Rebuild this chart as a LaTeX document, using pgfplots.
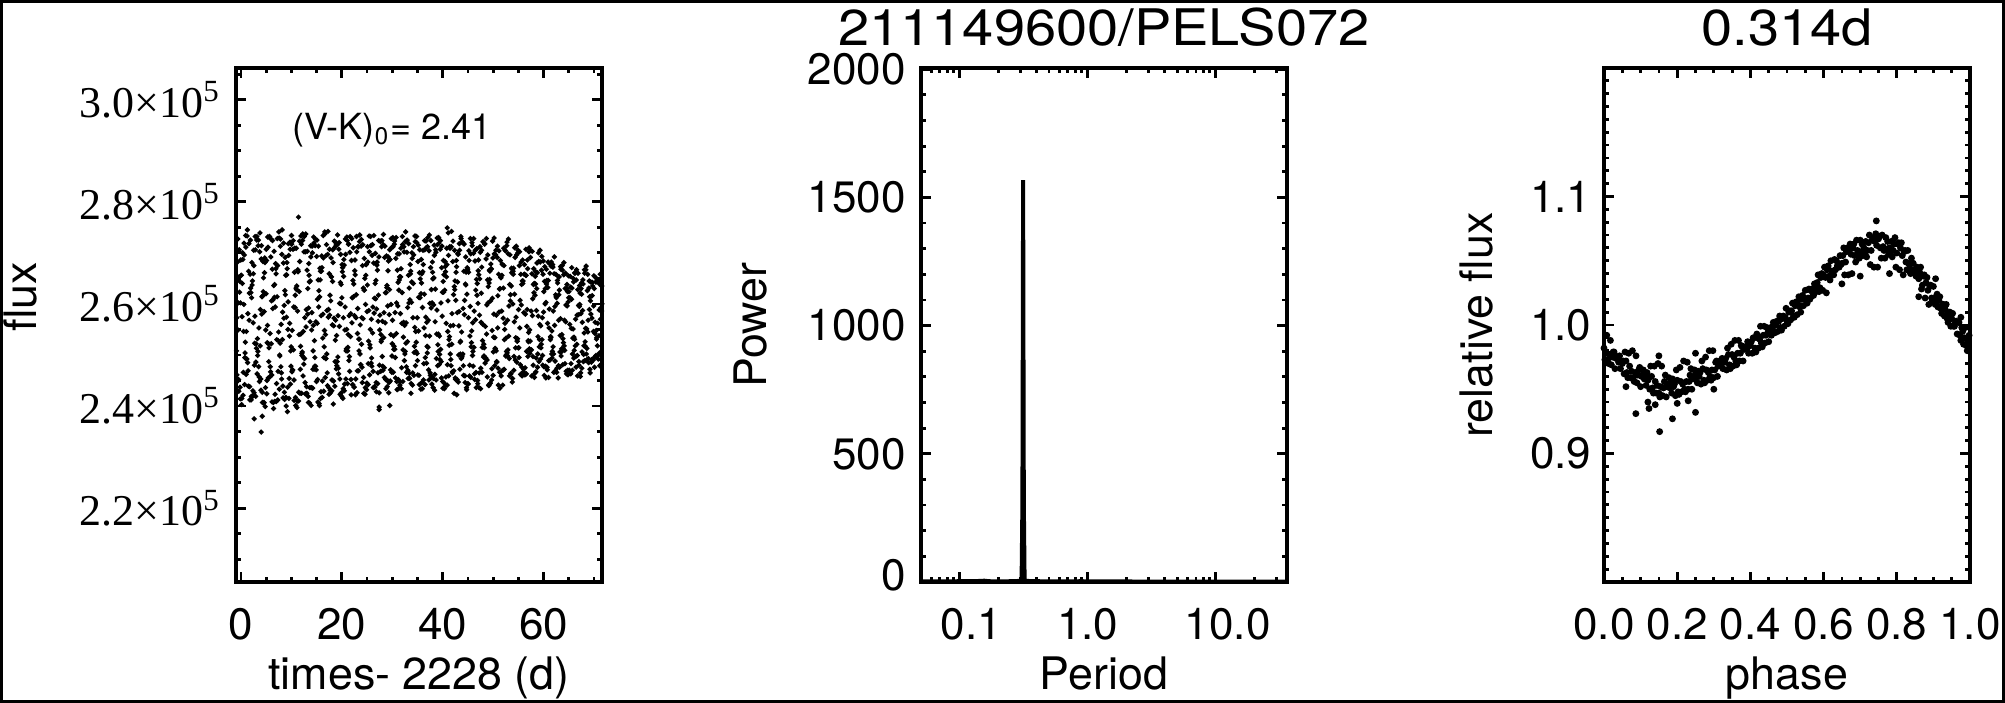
\documentclass[border=0pt]{standalone}
\usepackage{fontspec}
\setmainfont{TeX Gyre Heros}
\newfontfamily\timesf{Liberation Serif}
\usepackage{graphicx}
\usepackage{pgfplots}
\pgfplotsset{compat=1.18}
\pgfplotsset{
  idl/.style={
    scale only axis, width=91.5pt, height=128.5pt,
    anchor=south west,
    axis line style={line width=1pt},
    every tick/.style={black, line width=0.7pt},
    major tick length=2.5pt, minor tick length=1.25pt,
    tick align=inside,
    xtick pos=both, ytick pos=both,
    xticklabel pos=lower, yticklabel pos=left,
    /pgf/number format/assume math mode=true,
    /pgf/number format/1000 sep={},
    scaled ticks=false,
    tick label style={font=\fontsize{11}{13}\selectfont},
    xticklabel style={anchor=base, yshift=-14.5pt},
    yticklabel style={anchor=east, inner sep=0pt},
    label style={font=\fontsize{11.2}{13}\selectfont},
    xlabel style={at={(axis description cs:0.5,-0.21)}, anchor=base},
    ylabel style={anchor=base},
    title style={font=\fontsize{14}{16}\selectfont, at={(axis description cs:0.5,1.0447)}, anchor=base, yshift=-6pt},
  }
}
\begin{document}
\begin{tikzpicture}
\useasboundingbox (0,0) rectangle (501.25pt,175.75pt);
% ---------------- panel 1: light curve ----------------
\begin{axis}[idl, at={(59pt,30.25pt)},
  xmin=-1, xmax=71.6, ymin=2.0555, ymax=3.062,
  xtick={0,20,40,60},
  minor xtick={5,10,15,25,30,35,45,50,55,65,70},
  ytick={2.2,2.4,2.6,2.8,3.0},
  minor ytick={2.10,2.15,2.25,2.30,2.35,2.45,2.50,2.55,2.65,2.70,2.75,2.85,2.90,2.95,3.05},
  yticklabels={{\timesf 2.2×10\textsuperscript{5}},{\timesf 2.4×10\textsuperscript{5}},{\timesf 2.6×10\textsuperscript{5}},{\timesf 2.8×10\textsuperscript{5}},{\timesf 3.0×10\textsuperscript{5}}},
  yticklabel style={xshift=-3.6pt},
  xlabel={times- 2228 (d)}, ylabel={flux},
  ylabel style={at={(axis description cs:-0.546,0.555)}},
]
% flux in units of 1e5
\addplot[only marks, mark=*, mark size=0.42pt, black] coordinates {
(-0.9,2.508)(-0.8,2.461)(-0.7,2.682)(-0.6,2.549)(-0.5,2.452)(-0.4,2.653)(-0.3,2.623)(-0.2,2.437)(-0.1,2.602)(0.0,2.656)(0.1,2.403)(0.2,2.575)(0.3,2.700)(0.4,2.421)(0.5,2.546)(0.6,2.719)(0.7,2.442)(0.8,2.504)(0.9,2.734)(1.0,2.462)(1.1,2.492)(1.2,2.733)
(1.3,2.485)(1.4,2.469)(1.5,2.664)(1.6,2.568)(1.7,2.438)(1.8,2.658)(1.9,2.631)(2.0,2.412)(2.1,2.612)(2.2,2.637)(2.3,2.419)(2.4,2.563)(2.5,2.705)(2.6,2.426)(2.7,2.523)(2.8,2.732)(2.9,2.419)(3.0,2.522)(3.1,2.725)(3.2,2.463)(3.3,2.499)(3.4,2.714)
(3.5,2.477)(3.6,2.457)(3.7,2.702)(3.8,2.518)(3.9,2.453)(4.0,2.688)(4.1,2.580)(4.2,2.427)(4.3,2.616)(4.4,2.624)(4.5,2.406)(4.6,2.585)(4.7,2.690)(4.8,2.399)(4.9,2.549)(5.0,2.707)(5.1,2.424)(5.2,2.524)(5.3,2.731)(5.4,2.455)(5.5,2.487)(5.6,2.731)
(5.7,2.457)(5.8,2.477)(5.9,2.692)(6.0,2.522)(6.1,2.461)(6.2,2.668)(6.3,2.591)(6.4,2.407)(6.5,2.636)(6.6,2.613)(6.7,2.409)(6.8,2.594)(6.9,2.669)(7.0,2.409)(7.1,2.530)(7.2,2.728)(7.3,2.412)(7.4,2.528)(7.5,2.741)(7.6,2.433)(7.7,2.498)(7.8,2.713)
(7.9,2.477)(8.0,2.465)(8.1,2.697)(8.2,2.530)(8.3,2.439)(8.4,2.680)(8.5,2.572)(8.6,2.427)(8.7,2.626)(8.8,2.618)(8.9,2.417)(9.0,2.574)(9.1,2.681)(9.2,2.389)(9.3,2.550)(9.4,2.718)(9.5,2.415)(9.6,2.537)(9.7,2.721)(9.8,2.443)(9.9,2.478)(10.0,2.734)
(10.1,2.467)(10.2,2.470)(10.3,2.707)(10.4,2.510)(10.5,2.451)(10.6,2.662)(10.7,2.593)(10.8,2.417)(10.9,2.631)(11.0,2.628)(11.1,2.397)(11.2,2.586)(11.3,2.663)(11.4,2.410)(11.5,2.540)(11.6,2.723)(11.7,2.425)(11.8,2.517)(11.9,2.733)(12.0,2.425)(12.1,2.499)(12.2,2.724)
(12.3,2.459)(12.4,2.495)(12.5,2.702)(12.6,2.493)(12.7,2.446)(12.8,2.702)(12.9,2.555)(13.0,2.438)(13.1,2.666)(13.2,2.580)(13.3,2.419)(13.4,2.592)(13.5,2.656)(13.6,2.406)(13.7,2.565)(13.8,2.714)(13.9,2.401)(14.0,2.549)(14.1,2.713)(14.2,2.435)(14.3,2.508)(14.4,2.731)
(14.5,2.472)(14.6,2.478)(14.7,2.714)(14.8,2.478)(14.9,2.471)(15.0,2.693)(15.1,2.562)(15.2,2.452)(15.3,2.647)(15.4,2.594)(15.5,2.405)(15.6,2.614)(15.7,2.647)(15.8,2.415)(15.9,2.577)(16.0,2.694)(16.1,2.417)(16.2,2.533)(16.3,2.734)(16.4,2.429)(16.5,2.516)(16.6,2.741)
(16.7,2.456)(16.8,2.493)(16.9,2.695)(17.0,2.502)(17.1,2.465)(17.2,2.697)(17.3,2.574)(17.4,2.436)(17.5,2.659)(17.6,2.578)(17.7,2.431)(17.8,2.606)(17.9,2.653)(18.0,2.430)(18.1,2.559)(18.2,2.706)(18.3,2.404)(18.4,2.557)(18.5,2.723)(18.6,2.439)(18.7,2.529)(18.8,2.720)
(18.9,2.473)(19.0,2.479)(19.1,2.716)(19.2,2.496)(19.3,2.474)(19.4,2.707)(19.5,2.556)(19.6,2.453)(19.7,2.642)(19.8,2.600)(19.9,2.426)(20.0,2.612)(20.1,2.663)(20.2,2.415)(20.3,2.573)(20.4,2.687)(20.5,2.430)(20.6,2.549)(20.7,2.727)(20.8,2.453)(20.9,2.512)(21.0,2.731)
(21.1,2.444)(21.2,2.515)(21.3,2.717)(21.4,2.489)(21.5,2.497)(21.6,2.701)(21.7,2.536)(21.8,2.452)(21.9,2.685)(22.0,2.563)(22.1,2.442)(22.2,2.646)(22.3,2.614)(22.4,2.437)(22.5,2.577)(22.6,2.686)(22.7,2.422)(22.8,2.573)(22.9,2.732)(23.0,2.426)(23.1,2.542)(23.2,2.712)
(23.3,2.469)(23.4,2.508)(23.5,2.722)(23.6,2.502)(23.7,2.481)(23.8,2.713)(23.9,2.521)(24.0,2.476)(24.1,2.675)(24.2,2.571)(24.3,2.456)(24.4,2.627)(24.5,2.627)(24.6,2.423)(24.7,2.599)(24.8,2.677)(24.9,2.432)(25.0,2.585)(25.1,2.712)(25.2,2.442)(25.3,2.527)(25.4,2.733)
(25.5,2.461)(25.6,2.514)(25.7,2.732)(25.8,2.484)(25.9,2.494)(26.0,2.695)(26.1,2.543)(26.2,2.468)(26.3,2.680)(26.4,2.582)(26.5,2.438)(26.6,2.640)(26.7,2.610)(26.8,2.446)(26.9,2.590)(27.0,2.682)(27.1,2.444)(27.2,2.566)(27.3,2.724)(27.4,2.426)(27.5,2.549)(27.6,2.723)
(27.7,2.468)(27.8,2.526)(27.9,2.712)(28.0,2.497)(28.1,2.478)(28.2,2.716)(28.3,2.534)(28.4,2.475)(28.5,2.691)(28.6,2.563)(28.7,2.452)(28.8,2.622)(28.9,2.632)(29.0,2.438)(29.1,2.596)(29.2,2.692)(29.3,2.426)(29.4,2.579)(29.5,2.706)(29.6,2.449)(29.7,2.540)(29.8,2.728)
(29.9,2.466)(30.0,2.522)(30.1,2.730)(30.2,2.466)(30.3,2.511)(30.4,2.717)(30.5,2.511)(30.6,2.495)(30.7,2.689)(30.8,2.542)(30.9,2.448)(31.0,2.666)(31.1,2.596)(31.2,2.452)(31.3,2.627)(31.4,2.647)(31.5,2.441)(31.6,2.581)(31.7,2.709)(31.8,2.434)(31.9,2.562)(32.0,2.732)
(32.1,2.448)(32.2,2.535)(32.3,2.712)(32.4,2.489)(32.5,2.502)(32.6,2.722)(32.7,2.523)(32.8,2.477)(32.9,2.701)(33.0,2.526)(33.1,2.470)(33.2,2.656)(33.3,2.602)(33.4,2.464)(33.5,2.608)(33.6,2.659)(33.7,2.425)(33.8,2.603)(33.9,2.700)(34.0,2.441)(34.1,2.573)(34.2,2.712)
(34.3,2.460)(34.4,2.517)(34.5,2.733)(34.6,2.479)(34.7,2.507)(34.8,2.732)(34.9,2.503)(35.0,2.489)(35.1,2.683)(35.2,2.547)(35.3,2.460)(35.4,2.661)(35.5,2.612)(35.6,2.444)(35.7,2.620)(35.8,2.641)(35.9,2.446)(36.0,2.593)(36.1,2.705)(36.2,2.451)(36.3,2.553)(36.4,2.724)
(36.5,2.442)(36.6,2.538)(36.7,2.723)(36.8,2.484)(36.9,2.517)(37.0,2.712)(37.1,2.515)(37.2,2.471)(37.3,2.704)(37.4,2.537)(37.5,2.465)(37.6,2.671)(37.7,2.592)(37.8,2.456)(37.9,2.602)(38.0,2.662)(38.1,2.436)(38.2,2.598)(38.3,2.715)(38.4,2.431)(38.5,2.565)(38.6,2.706)
(38.7,2.451)(38.8,2.541)(38.9,2.729)(39.0,2.479)(39.1,2.507)(39.2,2.730)(39.3,2.481)(39.4,2.501)(39.5,2.707)(39.6,2.511)(39.7,2.487)(39.8,2.671)(39.9,2.576)(40.0,2.448)(40.1,2.644)(40.2,2.623)(40.3,2.445)(40.4,2.627)(40.5,2.673)(40.6,2.440)(40.7,2.562)(40.8,2.709)
(40.9,2.441)(41.0,2.546)(41.1,2.739)(41.2,2.459)(41.3,2.519)(41.4,2.712)(41.5,2.502)(41.6,2.491)(41.7,2.712)(41.8,2.521)(41.9,2.467)(42.0,2.683)(42.1,2.558)(42.2,2.469)(42.3,2.634)(42.4,2.628)(42.5,2.455)(42.6,2.607)(42.7,2.685)(42.8,2.422)(42.9,2.583)(43.0,2.699)
(43.1,2.447)(43.2,2.557)(43.3,2.718)(43.4,2.472)(43.5,2.502)(43.6,2.732)(43.7,2.493)(43.8,2.496)(43.9,2.721)(44.0,2.502)(44.1,2.479)(44.2,2.664)(44.3,2.579)(44.4,2.459)(44.5,2.639)(44.6,2.637)(44.7,2.436)(44.8,2.619)(44.9,2.666)(45.0,2.444)(45.1,2.573)(45.2,2.704)
(45.3,2.459)(45.4,2.537)(45.5,2.728)(45.6,2.456)(45.7,2.524)(45.8,2.720)(45.9,2.499)(46.0,2.507)(46.1,2.699)(46.2,2.515)(46.3,2.463)(46.4,2.684)(46.5,2.569)(46.6,2.466)(46.7,2.648)(46.8,2.617)(46.9,2.450)(47.0,2.601)(47.1,2.686)(47.2,2.436)(47.3,2.578)(47.4,2.712)
(47.5,2.434)(47.6,2.564)(47.7,2.705)(47.8,2.466)(47.9,2.528)(48.0,2.722)(48.1,2.496)(48.2,2.498)(48.3,2.717)(48.4,2.484)(48.5,2.493)(48.6,2.688)(48.7,2.541)(48.8,2.490)(48.9,2.647)(49.0,2.602)(49.1,2.441)(49.2,2.641)(49.3,2.648)(49.4,2.444)(49.5,2.606)(49.6,2.668)
(49.7,2.451)(49.8,2.548)(49.9,2.723)(50.0,2.460)(50.1,2.535)(50.2,2.729)(50.3,2.479)(50.4,2.513)(50.5,2.696)(50.6,2.508)(50.7,2.487)(50.8,2.691)(50.9,2.553)(51.0,2.474)(51.1,2.658)(51.2,2.584)(51.3,2.466)(51.4,2.630)(51.5,2.652)(51.6,2.459)(51.7,2.586)(51.8,2.678)
(51.9,2.441)(52.0,2.572)(52.1,2.709)(52.2,2.472)(52.3,2.550)(52.4,2.705)(52.5,2.498)(52.6,2.500)(52.7,2.714)(52.8,2.504)(52.9,2.498)(53.0,2.698)(53.1,2.537)(53.2,2.493)(53.3,2.638)(53.4,2.606)(53.5,2.464)(53.6,2.635)(53.7,2.661)(53.8,2.447)(53.9,2.600)(54.0,2.658)
(54.1,2.470)(54.2,2.565)(54.3,2.710)(54.4,2.490)(54.5,2.534)(54.6,2.713)(54.7,2.486)(54.8,2.527)(54.9,2.700)(55.0,2.514)(55.1,2.514)(55.2,2.675)(55.3,2.553)(55.4,2.481)(55.5,2.658)(55.6,2.598)(55.7,2.476)(55.8,2.645)(55.9,2.640)(56.0,2.467)(56.1,2.583)(56.2,2.677)
(56.3,2.461)(56.4,2.580)(56.5,2.707)(56.6,2.463)(56.7,2.556)(56.8,2.686)(56.9,2.497)(57.0,2.526)(57.1,2.702)(57.2,2.512)(57.3,2.503)(57.4,2.691)(57.5,2.510)(57.6,2.510)(57.7,2.659)(57.8,2.577)(57.9,2.497)(58.0,2.638)(58.1,2.622)(58.2,2.456)(58.3,2.617)(58.4,2.639)
(58.5,2.467)(58.6,2.587)(58.7,2.680)(58.8,2.476)(58.9,2.536)(59.0,2.700)(59.1,2.487)(59.2,2.530)(59.3,2.705)(59.4,2.492)(59.5,2.514)(59.6,2.666)(59.7,2.530)(59.8,2.499)(59.9,2.658)(60.0,2.584)(60.1,2.477)(60.2,2.644)(60.3,2.600)(60.4,2.478)(60.5,2.603)(60.6,2.639)
(60.7,2.476)(60.8,2.562)(60.9,2.682)(61.0,2.456)(61.1,2.553)(61.2,2.679)(61.3,2.490)(61.4,2.536)(61.5,2.674)(61.6,2.502)(61.7,2.494)(61.8,2.677)(61.9,2.516)(62.0,2.502)(62.1,2.659)(62.2,2.558)(62.3,2.488)(62.4,2.618)(62.5,2.614)(62.6,2.466)(62.7,2.601)(62.8,2.641)
(62.9,2.455)(63.0,2.568)(63.1,2.653)(63.2,2.476)(63.3,2.538)(63.4,2.673)(63.5,2.498)(63.6,2.512)(63.7,2.675)(63.8,2.481)(63.9,2.512)(64.0,2.657)(64.1,2.518)(64.2,2.509)(64.3,2.630)(64.4,2.565)(64.5,2.468)(64.6,2.630)(64.7,2.596)(64.8,2.470)(64.9,2.604)(65.0,2.612)
(65.1,2.470)(65.2,2.560)(65.3,2.654)(65.4,2.463)(65.5,2.552)(65.6,2.671)(65.7,2.470)(65.8,2.533)(65.9,2.650)(66.0,2.494)(66.1,2.509)(66.2,2.661)(66.3,2.518)(66.4,2.497)(66.5,2.647)(66.6,2.521)(66.7,2.499)(66.8,2.628)(66.9,2.579)(67.0,2.487)(67.1,2.595)(67.2,2.599)
(67.3,2.458)(67.4,2.581)(67.5,2.641)(67.6,2.474)(67.7,2.564)(67.8,2.647)(67.9,2.487)(68.0,2.518)(68.1,2.667)(68.2,2.489)(68.3,2.517)(68.4,2.667)(68.5,2.502)(68.6,2.513)(68.7,2.626)(68.8,2.545)(68.9,2.493)(69.0,2.631)(69.1,2.589)(69.2,2.472)(69.3,2.606)(69.4,2.580)
(69.5,2.486)(69.6,2.572)(69.7,2.642)(69.8,2.491)(69.9,2.546)(70.0,2.655)(70.1,2.476)(70.2,2.542)(70.3,2.652)(70.4,2.499)(70.5,2.531)(70.6,2.643)(70.7,2.518)(70.8,2.499)(70.9,2.644)(71.0,2.538)(71.1,2.504)(71.2,2.638)(71.3,2.570)(71.4,2.491)(71.5,2.586)(71.6,2.600)
(11.4,2.770)(4.0,2.349)(2.6,2.375)(4.2,2.380)(27.4,2.398)(27.4,2.393)(29.5,2.401)(40.9,2.749)
};
\addplot[only marks, mark=*, mark size=0.42pt, black] coordinates {
(-0.85,2.573)(-0.75,2.448)(-0.65,2.727)(-0.55,2.602)(-0.45,2.429)(-0.35,2.706)(-0.25,2.644)(-0.15,2.414)(-0.05,2.686)(0.05,2.656)(0.15,2.415)(0.25,2.640)(0.35,2.687)(0.45,2.466)(0.55,2.599)(0.65,2.696)(0.75,2.495)(0.85,2.525)(0.95,2.711)(1.05,2.546)(1.15,2.492)(1.25,2.745)
(1.35,2.581)(1.45,2.439)(1.55,2.718)(1.65,2.621)(1.75,2.412)(1.85,2.725)(1.95,2.622)(2.05,2.419)(2.15,2.681)(2.25,2.645)(2.35,2.430)(2.45,2.659)(2.55,2.675)(2.65,2.480)(2.75,2.576)(2.85,2.706)(2.95,2.486)(3.05,2.513)(3.15,2.732)(3.25,2.532)(3.35,2.507)(3.45,2.725)
(3.55,2.553)(3.65,2.448)(3.75,2.739)(3.85,2.589)(3.95,2.431)(4.05,2.714)(4.15,2.614)(4.25,2.407)(4.35,2.683)(4.45,2.651)(4.55,2.407)(4.65,2.661)(4.75,2.681)(4.85,2.436)(4.95,2.620)(5.05,2.685)(5.15,2.450)(5.25,2.558)(5.35,2.711)(5.45,2.522)(5.55,2.514)(5.65,2.732)
(5.75,2.542)(5.85,2.467)(5.95,2.727)(6.05,2.606)(6.15,2.408)(6.25,2.724)(6.35,2.608)(6.45,2.395)(6.55,2.703)(6.65,2.638)(6.75,2.423)(6.85,2.679)(6.95,2.659)(7.05,2.444)(7.15,2.614)(7.25,2.675)(7.35,2.468)(7.45,2.545)(7.55,2.729)(7.65,2.500)(7.75,2.523)(7.85,2.727)
(7.95,2.560)(8.05,2.453)(8.15,2.745)(8.25,2.584)(8.35,2.416)(8.45,2.719)(8.55,2.597)(8.65,2.413)(8.75,2.691)(8.85,2.656)(8.95,2.400)(9.05,2.657)(9.15,2.669)(9.25,2.437)(9.35,2.604)(9.45,2.695)(9.55,2.454)(9.65,2.562)(9.75,2.707)(9.85,2.508)(9.95,2.516)(10.05,2.717)
(10.15,2.548)(10.25,2.471)(10.35,2.724)(10.45,2.594)(10.55,2.411)(10.65,2.709)(10.75,2.617)(10.85,2.401)(10.95,2.709)(11.05,2.635)(11.15,2.410)(11.25,2.667)(11.35,2.664)(11.45,2.427)(11.55,2.624)(11.65,2.683)(11.75,2.472)(11.85,2.541)(11.95,2.717)(12.05,2.503)(12.15,2.506)(12.25,2.737)
(12.35,2.546)(12.45,2.482)(12.55,2.732)(12.65,2.573)(12.75,2.424)(12.85,2.737)(12.95,2.589)(13.05,2.425)(13.15,2.703)(13.25,2.630)(13.35,2.407)(13.45,2.679)(13.55,2.643)(13.65,2.436)(13.75,2.645)(13.85,2.692)(13.95,2.436)(14.05,2.583)(14.15,2.700)(14.25,2.472)(14.35,2.558)(14.45,2.719)
(14.55,2.528)(14.65,2.495)(14.75,2.727)(14.85,2.565)(14.95,2.448)(15.05,2.725)(15.15,2.609)(15.25,2.408)(15.35,2.713)(15.45,2.626)(15.55,2.401)(15.65,2.670)(15.75,2.664)(15.85,2.428)(15.95,2.664)(16.05,2.671)(16.15,2.449)(16.25,2.580)(16.35,2.690)(16.45,2.495)(16.55,2.548)(16.65,2.737)
(16.75,2.540)(16.85,2.493)(16.95,2.716)(17.05,2.587)(17.15,2.440)(17.25,2.742)(17.35,2.589)(17.45,2.423)(17.55,2.707)(17.65,2.617)(17.75,2.426)(17.85,2.690)(17.95,2.653)(18.05,2.451)(18.15,2.644)(18.25,2.681)(18.35,2.449)(18.45,2.572)(18.55,2.710)(18.65,2.487)(18.75,2.568)(18.85,2.715)
(18.95,2.538)(19.05,2.487)(19.15,2.735)(19.25,2.577)(19.35,2.463)(19.45,2.720)(19.55,2.601)(19.65,2.423)(19.75,2.697)(19.85,2.638)(19.95,2.419)(20.05,2.677)(20.15,2.671)(20.25,2.434)(20.35,2.654)(20.45,2.676)(20.55,2.443)(20.65,2.594)(20.75,2.697)(20.85,2.508)(20.95,2.550)(21.05,2.724)
(21.15,2.508)(21.25,2.540)(21.35,2.717)(21.45,2.577)(21.55,2.468)(21.65,2.732)(21.75,2.581)(21.85,2.422)(21.95,2.728)(22.05,2.612)(22.15,2.442)(22.25,2.710)(22.35,2.639)(22.45,2.437)(22.55,2.665)(22.65,2.657)(22.75,2.453)(22.85,2.618)(22.95,2.702)(23.05,2.469)(23.15,2.591)(23.25,2.712)
(23.35,2.531)(23.45,2.531)(23.55,2.735)(23.65,2.559)(23.75,2.481)(23.85,2.726)(23.95,2.573)(24.05,2.446)(24.15,2.716)(24.25,2.631)(24.35,2.425)(24.45,2.689)(24.55,2.650)(24.65,2.436)(24.75,2.656)(24.85,2.677)(24.95,2.445)(25.05,2.637)(25.15,2.682)(25.25,2.483)(25.35,2.587)(25.45,2.702)
(25.55,2.520)(25.65,2.550)(25.75,2.714)(25.85,2.570)(25.95,2.478)(26.05,2.716)(26.15,2.594)(26.25,2.436)(26.35,2.734)(26.45,2.611)(26.55,2.437)(26.65,2.699)(26.75,2.646)(26.85,2.428)(26.95,2.676)(27.05,2.666)(27.15,2.465)(27.25,2.617)(27.35,2.692)(27.45,2.480)(27.55,2.578)(27.65,2.722)
(27.75,2.540)(27.85,2.530)(27.95,2.724)(28.05,2.566)(28.15,2.470)(28.25,2.736)(28.35,2.583)(28.45,2.456)(28.55,2.713)(28.65,2.622)(28.75,2.434)(28.85,2.694)(28.95,2.636)(29.05,2.450)(29.15,2.665)(29.25,2.684)(29.35,2.446)(29.45,2.628)(29.55,2.687)(29.65,2.471)(29.75,2.599)(29.85,2.710)
(29.95,2.498)(30.05,2.568)(30.15,2.712)(30.25,2.537)(30.35,2.517)(30.45,2.723)(30.55,2.583)(30.65,2.455)(30.75,2.730)(30.85,2.602)(30.95,2.432)(31.05,2.698)(31.15,2.642)(31.25,2.434)(31.35,2.698)(31.45,2.653)(31.55,2.447)(31.65,2.653)(31.75,2.669)(31.85,2.475)(31.95,2.622)(32.05,2.716)
(32.15,2.510)(32.25,2.564)(32.35,2.702)(32.45,2.558)(32.55,2.507)(32.65,2.741)(32.75,2.563)(32.85,2.466)(32.95,2.725)(33.05,2.593)(33.15,2.454)(33.25,2.718)(33.35,2.631)(33.45,2.454)(33.55,2.677)(33.65,2.664)(33.75,2.444)(33.85,2.643)(33.95,2.689)(34.05,2.465)(34.15,2.640)(34.25,2.696)
(34.35,2.505)(34.45,2.554)(34.55,2.722)(34.65,2.546)(34.75,2.525)(34.85,2.720)(34.95,2.573)(35.05,2.461)(35.15,2.715)(35.25,2.613)(35.35,2.442)(35.45,2.706)(35.55,2.649)(35.65,2.433)(35.75,2.687)(35.85,2.659)(35.95,2.434)(36.05,2.663)(36.15,2.677)(36.25,2.483)(36.35,2.619)(36.45,2.706)
(36.55,2.495)(36.65,2.574)(36.75,2.710)(36.85,2.564)(36.95,2.504)(37.05,2.730)(37.15,2.568)(37.25,2.451)(37.35,2.735)(37.45,2.601)(37.55,2.460)(37.65,2.724)(37.75,2.628)(37.85,2.443)(37.95,2.682)(38.05,2.649)(38.15,2.454)(38.25,2.651)(38.35,2.695)(38.45,2.462)(38.55,2.629)(38.65,2.701)
(38.75,2.493)(38.85,2.588)(38.95,2.716)(39.05,2.520)(39.15,2.541)(39.25,2.719)(39.35,2.537)(39.45,2.491)(39.55,2.724)(39.65,2.602)(39.75,2.455)(39.85,2.713)(39.95,2.623)(40.05,2.435)(40.15,2.685)(40.25,2.657)(40.35,2.434)(40.45,2.683)(40.55,2.663)(40.65,2.457)(40.75,2.653)(40.85,2.677)
(40.95,2.481)(41.05,2.606)(41.15,2.695)(41.25,2.530)(41.35,2.536)(41.45,2.709)(41.55,2.557)(41.65,2.479)(41.75,2.742)(41.85,2.581)(41.95,2.465)(42.05,2.723)(42.15,2.618)(42.25,2.425)(42.35,2.705)(42.45,2.645)(42.55,2.452)(42.65,2.662)(42.75,2.673)(42.85,2.452)(42.95,2.643)(43.05,2.697)
(43.15,2.500)(43.25,2.585)(43.35,2.705)(43.45,2.525)(43.55,2.527)(43.65,2.728)(43.75,2.545)(43.85,2.498)(43.95,2.720)(44.05,2.591)(44.15,2.460)(44.25,2.717)(44.35,2.607)(44.45,2.446)(44.55,2.692)(44.65,2.662)(44.75,2.432)(44.85,2.671)(44.95,2.668)(45.05,2.443)(45.15,2.662)(45.25,2.685)
(45.35,2.480)(45.45,2.595)(45.55,2.698)(45.65,2.516)(45.75,2.547)(45.85,2.714)(45.95,2.563)(46.05,2.478)(46.15,2.728)(46.25,2.586)(46.35,2.452)(46.45,2.705)(46.55,2.627)(46.65,2.436)(46.75,2.708)(46.85,2.640)(46.95,2.444)(47.05,2.665)(47.15,2.657)(47.25,2.465)(47.35,2.649)(47.45,2.701)
(47.55,2.474)(47.65,2.621)(47.75,2.672)(47.85,2.515)(47.95,2.560)(48.05,2.721)(48.15,2.521)(48.25,2.514)(48.35,2.718)(48.45,2.556)(48.55,2.494)(48.65,2.728)(48.75,2.598)(48.85,2.457)(48.95,2.696)(49.05,2.634)(49.15,2.440)(49.25,2.666)(49.35,2.664)(49.45,2.445)(49.55,2.678)(49.65,2.669)
(49.75,2.473)(49.85,2.611)(49.95,2.690)(50.05,2.506)(50.15,2.580)(50.25,2.698)(50.35,2.534)(50.45,2.512)(50.55,2.705)(50.65,2.578)(50.75,2.486)(50.85,2.713)(50.95,2.616)(51.05,2.441)(51.15,2.704)(51.25,2.629)(51.35,2.435)(51.45,2.685)(51.55,2.651)(51.65,2.468)(51.75,2.656)(51.85,2.677)
(51.95,2.470)(52.05,2.631)(52.15,2.675)(52.25,2.530)(52.35,2.562)(52.45,2.704)(52.55,2.533)(52.65,2.507)(52.75,2.721)(52.85,2.568)(52.95,2.510)(53.05,2.727)(53.15,2.596)(53.25,2.459)(53.35,2.696)(53.45,2.618)(53.55,2.463)(53.65,2.670)(53.75,2.668)(53.85,2.454)(53.95,2.664)(54.05,2.670)
(54.15,2.497)(54.25,2.619)(54.35,2.691)(54.45,2.514)(54.55,2.574)(54.65,2.696)(54.75,2.527)(54.85,2.532)(54.95,2.705)(55.05,2.589)(55.15,2.495)(55.25,2.702)(55.35,2.607)(55.45,2.462)(55.55,2.682)(55.65,2.638)(55.75,2.459)(55.85,2.686)(55.95,2.645)(56.05,2.472)(56.15,2.658)(56.25,2.658)
(56.35,2.475)(56.45,2.656)(56.55,2.656)(56.65,2.507)(56.75,2.589)(56.85,2.669)(56.95,2.528)(57.05,2.544)(57.15,2.710)(57.25,2.549)(57.35,2.527)(57.45,2.705)(57.55,2.586)(57.65,2.459)(57.75,2.703)(57.85,2.610)(57.95,2.480)(58.05,2.669)(58.15,2.640)(58.25,2.464)(58.35,2.654)(58.45,2.663)
(58.55,2.494)(58.65,2.630)(58.75,2.661)(58.85,2.502)(58.95,2.576)(59.05,2.683)(59.15,2.516)(59.25,2.560)(59.35,2.682)(59.45,2.557)(59.55,2.521)(59.65,2.693)(59.75,2.573)(59.85,2.480)(59.95,2.684)(60.05,2.624)(60.15,2.460)(60.25,2.673)(60.35,2.630)(60.45,2.455)(60.55,2.668)(60.65,2.646)
(60.75,2.471)(60.85,2.632)(60.95,2.646)(61.05,2.489)(61.15,2.590)(61.25,2.660)(61.35,2.530)(61.45,2.534)(61.55,2.682)(61.65,2.547)(61.75,2.507)(61.85,2.672)(61.95,2.586)(62.05,2.466)(62.15,2.692)(62.25,2.595)(62.35,2.469)(62.45,2.658)(62.55,2.612)(62.65,2.474)(62.75,2.646)(62.85,2.654)
(62.95,2.479)(63.05,2.618)(63.15,2.627)(63.25,2.506)(63.35,2.571)(63.45,2.668)(63.55,2.506)(63.65,2.540)(63.75,2.666)(63.85,2.532)(63.95,2.524)(64.05,2.681)(64.15,2.568)(64.25,2.483)(64.35,2.660)(64.45,2.598)(64.55,2.463)(64.65,2.638)(64.75,2.624)(64.85,2.461)(64.95,2.655)(65.05,2.624)
(65.15,2.469)(65.25,2.612)(65.35,2.633)(65.45,2.483)(65.55,2.609)(65.65,2.631)(65.75,2.502)(65.85,2.551)(65.95,2.643)(66.05,2.535)(66.15,2.531)(66.25,2.660)(66.35,2.570)(66.45,2.476)(66.55,2.667)(66.65,2.578)(66.75,2.459)(66.85,2.660)(66.95,2.597)(67.05,2.480)(67.15,2.636)(67.25,2.621)
(67.35,2.465)(67.45,2.630)(67.55,2.619)(67.65,2.506)(67.75,2.587)(67.85,2.639)(67.95,2.501)(68.05,2.543)(68.15,2.660)(68.25,2.526)(68.35,2.552)(68.45,2.674)(68.55,2.551)(68.65,2.491)(68.75,2.658)(68.85,2.568)(68.95,2.485)(69.05,2.645)(69.15,2.614)(69.25,2.465)(69.35,2.643)(69.45,2.615)
(69.55,2.491)(69.65,2.616)(69.75,2.635)(69.85,2.490)(69.95,2.596)(70.05,2.630)(70.15,2.496)(70.25,2.564)(70.35,2.643)(70.45,2.548)(70.55,2.534)(70.65,2.648)(70.75,2.562)(70.85,2.492)(70.95,2.643)(71.05,2.588)(71.15,2.479)(71.25,2.658)(71.35,2.592)(71.45,2.482)(71.55,2.635)
};
\node[font=\fontsize{9}{10}\selectfont, anchor=base] at (axis description cs:0.426,0.86) {(V-K)\textsubscript{0}= 2.41};
\end{axis}
% ---------------- panel 2: periodogram ----------------
\begin{axis}[idl, at={(230.25pt,30.25pt)},
  xmode=log, xmin=0.05, xmax=36, ymin=0, ymax=2005,
  xtick={0.1,1,10}, xticklabels={\hspace*{6pt}0.1,1.0,\hspace*{6pt}10.0},
  minor xtick={0.06,0.07,0.08,0.09,0.2,0.3,0.4,0.5,0.6,0.7,0.8,0.9,2,3,4,5,6,7,8,9,20,30},
  ytick={0,500,1000,1500,2000}, yticklabels={\raisebox{3.5pt}{0},500,1000,1500,2000},
  minor y tick num=4,
  yticklabel style={xshift=-3.6pt},
  xlabel={Period}, ylabel={Power},
  ylabel style={at={(axis description cs:-0.421,0.5)}},
  title={\scalebox{1}[0.9]{211149600/PELS072}},
]
\addplot[black, line width=1pt] coordinates {
(0.05,2)(0.07,2)(0.1,3)(0.13,3)(0.156,5)(0.17,3)(0.2,2)(0.25,3)(0.29,4)(0.305,6)(0.3095,300)(0.3115,900)(0.3135,1568)(0.3155,900)(0.3175,300)(0.322,6)(0.34,4)(0.4,3)(0.6,2)(0.9,3)(1.1,2)(2,2)(5,1)(10,1)(20,1)(36,1)
};
\end{axis}
% ---------------- panel 3: phased light curve ----------------
\begin{axis}[idl, at={(401pt,30.25pt)},
  xmin=0, xmax=1, ymin=0.8, ymax=1.2,
  xtick={0,0.2,0.4,0.6,0.8,1}, xticklabels={0.0,0.2,0.4,0.6,0.8,1.0},
  minor x tick num=3,
  ytick={0.9,1.0,1.1}, yticklabels={0.9,1.0,1.1},
  minor ytick={0.81,0.82,0.83,0.84,0.85,0.86,0.87,0.88,0.89,0.91,0.92,0.93,0.94,0.95,0.96,0.97,0.98,0.99,1.01,1.02,1.03,1.04,1.05,1.06,1.07,1.08,1.09,1.11,1.12,1.13,1.14,1.15,1.16,1.17,1.18,1.19},
  yticklabel style={xshift=-3pt},
  xlabel={phase}, ylabel={relative flux},
  ylabel style={at={(axis description cs:-0.306,0.5)}},
  title={\scalebox{1}[0.9]{0.314d}},
]
\addplot[only marks, mark=*, mark size=0.65pt, black] coordinates {
(0.0000,0.982)(0.0025,0.973)(0.0050,0.978)(0.0075,0.992)(0.0100,0.973)(0.0125,0.970)(0.0150,0.977)(0.0175,0.988)(0.0200,0.969)(0.0225,0.975)(0.0250,0.979)(0.0275,0.979)(0.0300,0.966)(0.0325,0.974)(0.0350,0.975)(0.0375,0.975)(0.0400,0.971)(0.0425,0.976)(0.0450,0.966)(0.0475,0.972)
(0.0500,0.970)(0.0525,0.972)(0.0550,0.962)(0.0575,0.979)(0.0600,0.972)(0.0625,0.963)(0.0650,0.959)(0.0675,0.978)(0.0700,0.968)(0.0725,0.959)(0.0750,0.964)(0.0775,0.980)(0.0800,0.959)(0.0825,0.956)(0.0850,0.963)(0.0875,0.976)(0.0900,0.955)(0.0925,0.961)(0.0950,0.965)(0.0975,0.967)
(0.1000,0.952)(0.1025,0.960)(0.1050,0.961)(0.1075,0.965)(0.1100,0.958)(0.1125,0.962)(0.1150,0.953)(0.1175,0.963)(0.1200,0.957)(0.1225,0.959)(0.1250,0.950)(0.1275,0.968)(0.1300,0.960)(0.1325,0.951)(0.1350,0.947)(0.1375,0.968)(0.1400,0.956)(0.1425,0.947)(0.1450,0.953)(0.1475,0.970)
(0.1500,0.947)(0.1525,0.944)(0.1550,0.952)(0.1575,0.968)(0.1600,0.945)(0.1625,0.951)(0.1650,0.956)(0.1675,0.961)(0.1700,0.944)(0.1725,0.952)(0.1750,0.954)(0.1775,0.959)(0.1800,0.951)(0.1825,0.956)(0.1850,0.947)(0.1875,0.958)(0.1900,0.952)(0.1925,0.954)(0.1950,0.945)(0.1975,0.965)
(0.2000,0.957)(0.2025,0.948)(0.2050,0.946)(0.2075,0.967)(0.2100,0.956)(0.2125,0.948)(0.2150,0.954)(0.2175,0.972)(0.2200,0.950)(0.2225,0.948)(0.2250,0.956)(0.2275,0.971)(0.2300,0.950)(0.2325,0.956)(0.2350,0.961)(0.2375,0.966)(0.2400,0.950)(0.2425,0.958)(0.2450,0.960)(0.2475,0.965)
(0.2500,0.958)(0.2525,0.963)(0.2550,0.955)(0.2575,0.964)(0.2600,0.960)(0.2625,0.963)(0.2650,0.954)(0.2675,0.972)(0.2700,0.966)(0.2725,0.957)(0.2750,0.955)(0.2775,0.975)(0.2800,0.965)(0.2825,0.957)(0.2850,0.963)(0.2875,0.980)(0.2900,0.960)(0.2925,0.957)(0.2950,0.965)(0.2975,0.980)
(0.3000,0.959)(0.3025,0.965)(0.3050,0.971)(0.3075,0.972)(0.3100,0.960)(0.3125,0.968)(0.3150,0.971)(0.3175,0.972)(0.3200,0.969)(0.3225,0.974)(0.3250,0.966)(0.3275,0.973)(0.3300,0.971)(0.3325,0.974)(0.3350,0.965)(0.3375,0.982)(0.3400,0.977)(0.3425,0.969)(0.3450,0.966)(0.3475,0.985)
(0.3500,0.977)(0.3525,0.968)(0.3550,0.975)(0.3575,0.988)(0.3600,0.972)(0.3625,0.969)(0.3650,0.978)(0.3675,0.988)(0.3700,0.972)(0.3725,0.978)(0.3750,0.984)(0.3775,0.983)(0.3800,0.972)(0.3825,0.981)(0.3850,0.983)(0.3875,0.983)(0.3900,0.981)(0.3925,0.987)(0.3950,0.978)(0.3975,0.984)
(0.4000,0.984)(0.4025,0.987)(0.4050,0.978)(0.4075,0.990)(0.4100,0.990)(0.4125,0.982)(0.4150,0.979)(0.4175,0.993)(0.4200,0.990)(0.4225,0.982)(0.4250,0.989)(0.4275,0.999)(0.4300,0.986)(0.4325,0.983)(0.4350,0.992)(0.4375,0.999)(0.4400,0.986)(0.4425,0.992)(0.4450,0.998)(0.4475,0.994)
(0.4500,0.987)(0.4525,0.996)(0.4550,0.998)(0.4575,0.992)(0.4600,0.997)(0.4625,1.002)(0.4650,0.994)(0.4675,0.994)(0.4700,1.000)(0.4725,1.003)(0.4750,0.995)(0.4775,1.003)(0.4800,1.007)(0.4825,0.998)(0.4850,0.996)(0.4875,1.005)(0.4900,1.007)(0.4925,0.999)(0.4950,1.006)(0.4975,1.013)
(0.5000,1.003)(0.5025,1.001)(0.5050,1.010)(0.5075,1.011)(0.5100,1.004)(0.5125,1.011)(0.5150,1.017)(0.5175,1.007)(0.5200,1.006)(0.5225,1.015)(0.5250,1.018)(0.5275,1.008)(0.5300,1.016)(0.5325,1.022)(0.5350,1.014)(0.5375,1.010)(0.5400,1.020)(0.5425,1.023)(0.5450,1.015)(0.5475,1.020)
(0.5500,1.027)(0.5525,1.019)(0.5550,1.017)(0.5575,1.021)(0.5600,1.028)(0.5625,1.020)(0.5650,1.027)(0.5675,1.028)(0.5700,1.025)(0.5725,1.023)(0.5750,1.032)(0.5775,1.029)(0.5800,1.026)(0.5825,1.033)(0.5850,1.039)(0.5875,1.026)(0.5900,1.029)(0.5925,1.037)(0.5950,1.040)(0.5975,1.027)
(0.6000,1.039)(0.6025,1.045)(0.6050,1.037)(0.6075,1.025)(0.6100,1.043)(0.6125,1.046)(0.6150,1.038)(0.6175,1.035)(0.6200,1.050)(0.6225,1.042)(0.6250,1.040)(0.6275,1.039)(0.6300,1.051)(0.6325,1.043)(0.6350,1.050)(0.6375,1.046)(0.6400,1.047)(0.6425,1.045)(0.6450,1.054)(0.6475,1.047)
(0.6500,1.048)(0.6525,1.054)(0.6550,1.060)(0.6575,1.039)(0.6600,1.049)(0.6625,1.057)(0.6650,1.060)(0.6675,1.039)(0.6700,1.058)(0.6725,1.063)(0.6750,1.055)(0.6775,1.040)(0.6800,1.060)(0.6825,1.063)(0.6850,1.054)(0.6875,1.049)(0.6900,1.066)(0.6925,1.058)(0.6950,1.055)(0.6975,1.052)
(0.7000,1.066)(0.7025,1.057)(0.7050,1.063)(0.7075,1.054)(0.7100,1.060)(0.7125,1.057)(0.7150,1.065)(0.7175,1.053)(0.7200,1.058)(0.7225,1.064)(0.7250,1.070)(0.7275,1.047)(0.7300,1.058)(0.7325,1.066)(0.7350,1.068)(0.7375,1.045)(0.7400,1.065)(0.7425,1.071)(0.7450,1.062)(0.7475,1.045)
(0.7500,1.067)(0.7525,1.069)(0.7550,1.060)(0.7575,1.052)(0.7600,1.070)(0.7625,1.061)(0.7650,1.058)(0.7675,1.052)(0.7700,1.068)(0.7725,1.059)(0.7750,1.065)(0.7775,1.055)(0.7800,1.060)(0.7825,1.057)(0.7850,1.065)(0.7875,1.053)(0.7900,1.058)(0.7925,1.063)(0.7950,1.068)(0.7975,1.045)
(0.8000,1.056)(0.8025,1.063)(0.8050,1.064)(0.8075,1.043)(0.8100,1.060)(0.8125,1.064)(0.8150,1.054)(0.8175,1.039)(0.8200,1.057)(0.8225,1.058)(0.8250,1.049)(0.8275,1.043)(0.8300,1.058)(0.8325,1.048)(0.8350,1.044)(0.8375,1.040)(0.8400,1.052)(0.8425,1.043)(0.8450,1.048)(0.8475,1.041)
(0.8500,1.042)(0.8525,1.038)(0.8550,1.045)(0.8575,1.039)(0.8600,1.036)(0.8625,1.041)(0.8650,1.045)(0.8675,1.028)(0.8700,1.031)(0.8725,1.038)(0.8750,1.039)(0.8775,1.021)(0.8800,1.033)(0.8825,1.037)(0.8850,1.027)(0.8875,1.016)(0.8900,1.030)(0.8925,1.031)(0.8950,1.021)(0.8975,1.019)
(0.9000,1.030)(0.9025,1.020)(0.9050,1.016)(0.9075,1.022)(0.9100,1.024)(0.9125,1.014)(0.9150,1.019)(0.9175,1.022)(0.9200,1.013)(0.9225,1.009)(0.9250,1.016)(0.9275,1.016)(0.9300,1.007)(0.9325,1.012)(0.9350,1.016)(0.9375,1.005)(0.9400,1.002)(0.9425,1.009)(0.9450,1.010)(0.9475,0.999)
(0.9500,1.005)(0.9525,1.009)(0.9550,0.999)(0.9575,0.999)(0.9600,1.002)(0.9625,1.003)(0.9650,0.993)(0.9675,1.002)(0.9700,1.002)(0.9725,0.992)(0.9750,0.988)(0.9775,0.998)(0.9800,0.995)(0.9825,0.985)(0.9850,0.990)(0.9875,0.998)(0.9900,0.984)(0.9925,0.980)(0.9950,0.987)(0.9975,0.992)
(0.152,0.917)(0.744,1.081)(0.087,0.931)(0.123,0.935)(0.187,0.927)(0.25,0.932)(0.150,0.976)(0.25,0.978)(0.906,1.036)(0.975,1.006)(0.12,0.940)(0.14,0.938)(0.2,0.939)(0.23,0.941)(0.06,0.952)(0.30,0.950)(0.78,1.040)(0.70,1.038)(0.65,1.032)(0.86,1.022)
};
\end{axis}
\draw[line width=0.75pt] (0.375pt,0.375pt) rectangle (500.875pt,175.375pt);
\end{tikzpicture}
\end{document}
